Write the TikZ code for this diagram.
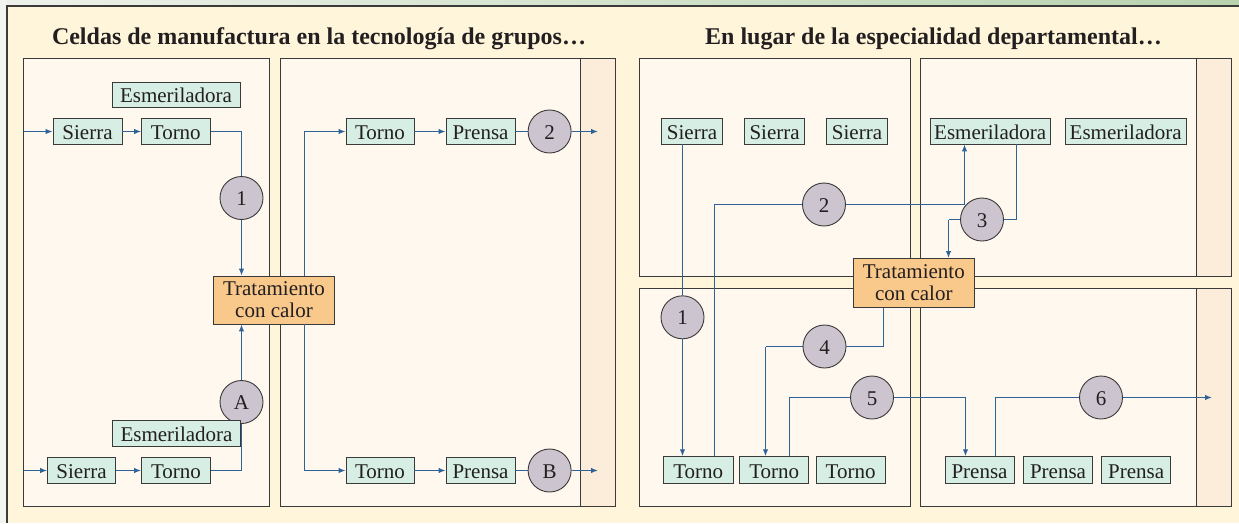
\documentclass[tikz,border=0pt]{standalone}
\usepackage{fontspec}
\setmainfont{Liberation Serif}
\usetikzlibrary{arrows.meta,calc}
\definecolor{bgcream}{HTML}{FFF5DB}
\definecolor{panelfill}{HTML}{FFF8EE}
\definecolor{bandfill}{HTML}{FCEDDA}
\definecolor{mint}{HTML}{D6EEE3}
\definecolor{lav}{HTML}{CCC4CE}
\definecolor{orangefill}{HTML}{F9C88B}
\definecolor{flow}{HTML}{2F6398}
\definecolor{ink}{HTML}{231F20}
\definecolor{edgegray}{HTML}{3A3A3A}
\definecolor{leftstrip}{HTML}{F2F4F0}
\definecolor{barleft}{HTML}{EDF1EA}
\definecolor{barright}{HTML}{B8D2AE}
\begin{document}
\begin{tikzpicture}[x=1pt,y=-1pt,
 machine/.style={draw=edgegray, line width=0.9pt, fill=mint, inner sep=0pt, minimum height=26pt, text height=16pt, text depth=0pt, text=ink, font=\fontsize{21}{22}\selectfont},
 stage/.style={circle, draw=edgegray, line width=0.9pt, fill=lav, minimum size=43pt, inner sep=0pt, text height=15pt, text depth=0pt, text=ink, font=\fontsize{21}{22}\selectfont},
 heat/.style={draw=edgegray, line width=0.9pt, fill=orangefill, inner sep=0pt, align=center, text=ink, font=\fontsize{21}{22}\selectfont},
 panel/.style={draw=edgegray, line width=1pt, fill=panelfill},
 band/.style={draw=edgegray, line width=1pt, fill=bandfill},
 flowline/.style={draw=flow, line width=1.2pt},
 flowarrow/.style={flowline, -{Latex[length=7pt,width=5.5pt]}},
 titletext/.style={font=\fontsize{24}{26}\selectfont\bfseries, text=ink, anchor=base}
]
\useasboundingbox (0,0) rectangle (1239,523);
% background
\fill[bgcream] (0,0) rectangle (1239,523);
\fill[leftstrip] (0,0) rectangle (7,523);
\shade[left color=barleft, right color=barright] (7,0) rectangle (1239,6);
\draw[edgegray, line width=1.2pt] (7,523) -- (7,6) -- (1239,6);

% titles
\node[titletext] (titleL) at (319,44) {Celdas de manufactura en la tecnología de grupos…};
\node[titletext] (titleR) at (933.5,44) {En lugar de la especialidad departamental…};

% panels left
\draw[panel] (23.5,58.5) rectangle (269.5,506.5);
\draw[panel] (280.5,58.5) rectangle (615.5,506.5);
\draw[band] (580.5,58.5) rectangle (615.5,506.5);
% panels right
\draw[panel] (639.5,58.5) rectangle (910.5,276.5);
\draw[panel] (920.5,58.5) rectangle (1231.5,276.5);
\draw[band] (1196.5,58.5) rectangle (1231.5,276.5);
\draw[panel] (639.5,288.5) rectangle (910.5,506.5);
\draw[panel] (920.5,288.5) rectangle (1231.5,506.5);
\draw[band] (1196.5,288.5) rectangle (1231.5,506.5);

% ---------- left nodes
\node[machine, minimum width=128pt, minimum height=25pt] (eA) at (176,94.5) {Esmeriladora};
\node[machine, minimum width=69pt] (sA) at (87.5,131) {Sierra};
\node[machine, minimum width=68.5pt] (tA) at (175.8,131) {Torno};
\node[stage] (c1) at (241.5,198) {1};
\node[heat, minimum width=121pt, minimum height=48pt] (trat) at (274,300) {Tratamiento\\con calor};
\node[stage] (cA) at (241.5,402) {A};
\node[machine, minimum width=128pt] (eB) at (176.5,433) {Esmeriladora};
\node[machine, minimum width=68pt] (sB) at (81.5,470) {Sierra};
\node[machine, minimum width=69pt] (tB) at (176,470) {Torno};
\node[machine, minimum width=68pt] (tC) at (380,131.5) {Torno};
\node[machine, minimum width=69pt] (pC) at (480.5,131.5) {Prensa};
\node[stage] (c2) at (549.6,131.5) {2};
\node[machine, minimum width=68pt] (tD) at (380,470.5) {Torno};
\node[machine, minimum width=69pt] (pD) at (480.5,470.5) {Prensa};
\node[stage] (cB) at (549.6,470.5) {B};
\coordinate (inA) at (24,131.5);
\coordinate (inB) at (24,470.5);
\coordinate (outC) at (598,131.5);
\coordinate (outD) at (598,470.5);
\coordinate (tx) at (304.5,300);

% ---------- left connectors
\draw[flowarrow] (inA) -- (sA.west |- inA);
\draw[flowarrow] (sA.east |- inA) -- (tA.west |- inA);
\draw[flowline] (tA.east |- inA) -- (inA -| c1) -- (c1.north);
\draw[flowarrow] (c1.south) -- (c1.south |- trat.north);
\draw[flowarrow] (inB) -- (sB.west |- inB);
\draw[flowarrow] (sB.east |- inB) -- (tB.west |- inB);
\draw[flowline] (tB.east |- inB) -- (inB -| cA) -- (cA.south);
\draw[flowarrow] (cA.north) -- (cA.north |- trat.south);
\draw[flowarrow] (trat.north -| tx) -- (tx |- tC) -- (tC.west);
\draw[flowarrow] (trat.south -| tx) -- (tx |- tD) -- (tD.west);
\draw[flowarrow] (tC) -- (pC);
\draw[flowline] (pC) -- (c2);
\draw[flowarrow] (c2.east) -- (outC);
\draw[flowarrow] (tD) -- (pD);
\draw[flowline] (pD) -- (cB);
\draw[flowarrow] (cB.east) -- (outD);

% ---------- right coordinates
\coordinate (l2a) at (714.5,204.5);
\coordinate (l2b) at (964.5,204.5);
\coordinate (l3a) at (1016.5,219.5);
\coordinate (l3b) at (948.5,219.5);
\coordinate (l4a) at (883.5,346.5);
\coordinate (l4b) at (765.5,346.5);
\coordinate (l5a) at (789.5,397.5);
\coordinate (l5b) at (965.5,397.5);
\coordinate (l6a) at (995.5,397.5);
\coordinate (out6) at (1212,397.5);

% ---------- right nodes
\node[machine, minimum width=61pt] (s1) at (692,131) {Sierra};
\node[machine, minimum width=60.4pt] (s2) at (774.6,131) {Sierra};
\node[machine, minimum width=61.7pt] (s3) at (857,131) {Sierra};
\node[machine, minimum width=120.3pt] (e1) at (990.2,131) {Esmeriladora};
\node[machine, minimum width=121.5pt] (e2) at (1125.7,131) {Esmeriladora};
\node[machine, minimum width=69.6pt, minimum height=26.6pt] (t1) at (698.2,470) {Torno};
\node[machine, minimum width=69pt, minimum height=26.6pt] (t2) at (774.2,470) {Torno};
\node[machine, minimum width=69.3pt, minimum height=26.6pt] (t3) at (850.6,470) {Torno};
\node[machine, minimum width=69pt, minimum height=26.6pt] (p1) at (979.5,470) {Prensa};
\node[machine, minimum width=69pt, minimum height=26.6pt] (p2) at (1058,470) {Prensa};
\node[machine, minimum width=69pt, minimum height=26.6pt] (p3) at (1136.2,470) {Prensa};

% right connectors
\draw[flowline] (l2a |- t1.north) -- (l2a) -- (l2b);
\draw[flowarrow] (l2b) -- (l2b |- e1.south);
\draw[flowline] (l3a |- e1.south) -- (l3a) -- (l3b);
\draw[flowarrow] (l3b) -- (l3b |- 0,258);
\draw[flowline] (l4a |- 0,307) -- (l4a) -- (l4b);
\draw[flowarrow] (l4b) -- (l4b |- t2.north);
\draw[flowline] (l5a |- t2.north) -- (l5a) -- (l5b);
\draw[flowarrow] (l5b) -- (l5b |- p1.north);
\draw[flowarrow] (l6a |- p1.north) -- (l6a) -- (out6);

\node[heat, minimum width=120.3pt, minimum height=49pt] (trat2) at (913.8,282.5) {Tratamiento\\con calor};
\node[stage] (r1) at (682.5,317.3) {1};
\node[stage] (r2) at (824,204.5) {2};
\node[stage] (r3) at (982,219.5) {3};
\node[stage] (r4) at (824.5,346.5) {4};
\node[stage] (r5) at (872,397.5) {5};
\node[stage] (r6) at (1101,397.5) {6};
\draw[flowline] (r1 |- s1.south) -- (r1.north);
\draw[flowarrow] (r1.south) -- (r1 |- t1.north);
\end{tikzpicture}
\end{document}
